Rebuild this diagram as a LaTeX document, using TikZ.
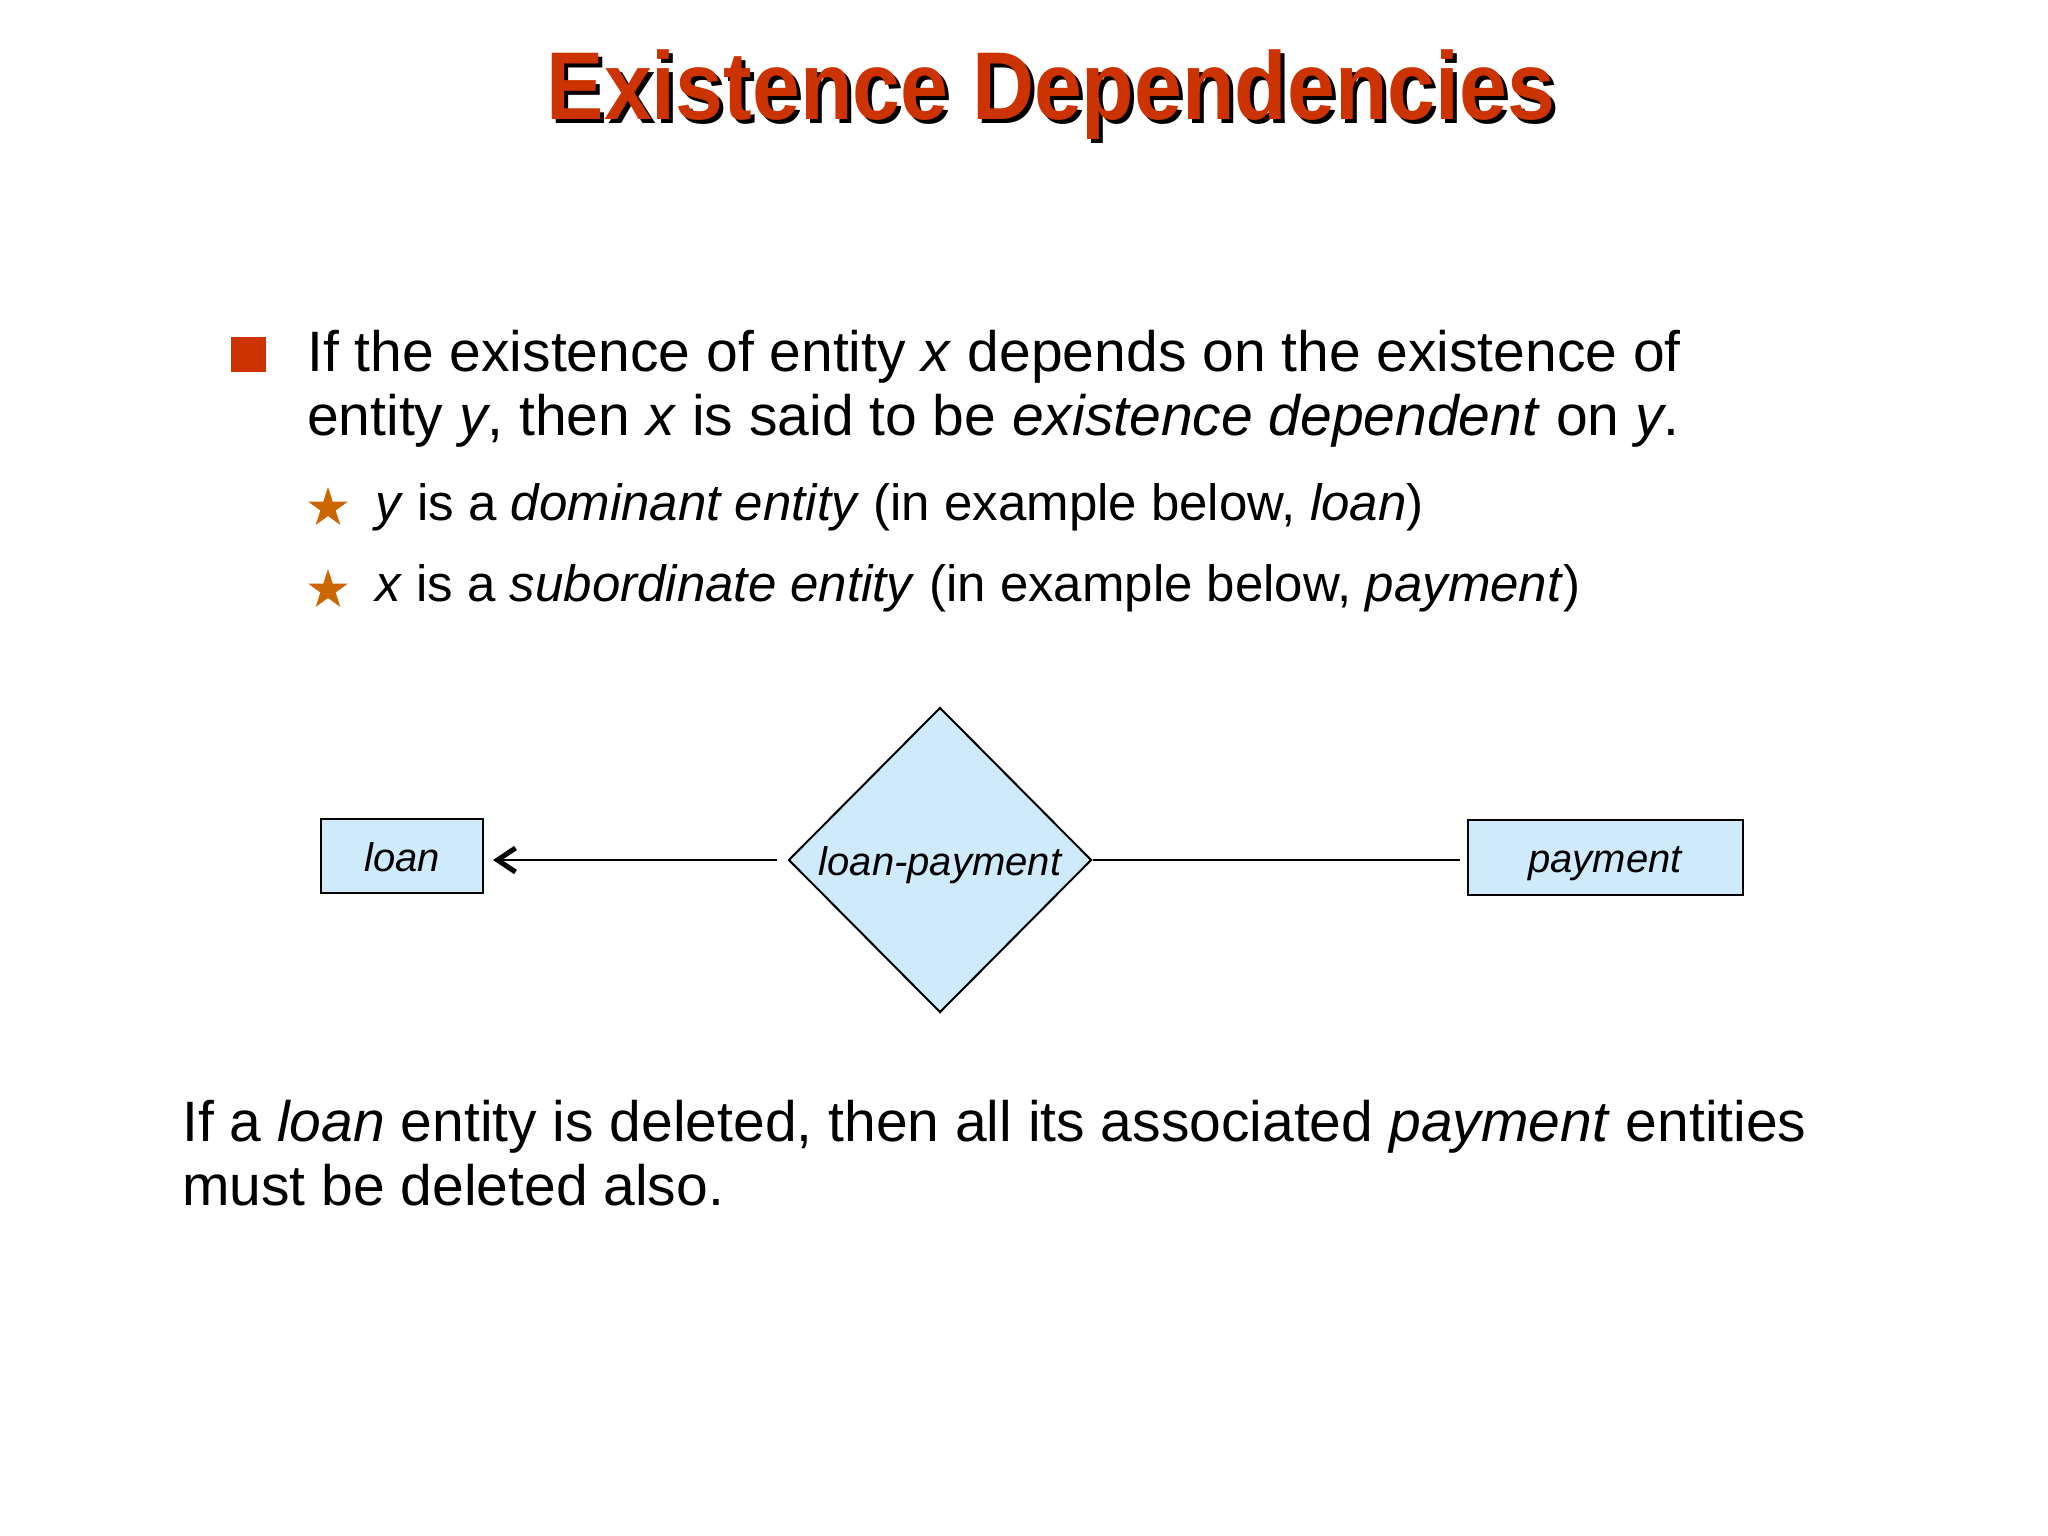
\documentclass[tikz,border=0pt]{standalone}
\usepackage{fontspec}
\setmainfont{Liberation Sans}
\usetikzlibrary{shapes.geometric,arrows.meta}
\definecolor{titlered}{RGB}{204,51,0}
\definecolor{staror}{RGB}{204,102,0}
\definecolor{erblue}{RGB}{206,234,251}
\begin{document}
\begin{tikzpicture}[x=1pt,y=-1pt,
  titletext/.style={anchor=base, inner sep=0pt, font=\fontsize{86}{90}\selectfont\bfseries},
  txt/.style={inner sep=0pt, anchor=base west, font=\fontsize{57}{64}\selectfont},
  sub/.style={inner sep=0pt, anchor=base west, font=\fontsize{51}{60}\selectfont},
  entity/.style={draw, line width=2pt, fill=erblue, inner sep=0pt, text height=30pt, text depth=0pt, font=\fontsize{40}{48}\selectfont\itshape},
  relship/.style={diamond, aspect=1, draw, line width=2pt, fill=erblue, inner sep=0pt, text height=30pt, text depth=0pt, font=\fontsize{40}{48}\selectfont\itshape, minimum width=303pt, minimum height=305pt},
  starbul/.style={star, star points=5, star point ratio=2.618, fill=staror, inner sep=0pt, minimum size=42pt},
  sqbul/.style={fill=titlered, inner sep=0pt, minimum size=35pt},
  link/.style={line width=2pt}]
\useasboundingbox[fill=white] (0,0) rectangle (2048,1536);

% title with shadow
\node[titletext, text=black] (titleshadow) at (1055,124) {\scalebox{1}[1.12]{Existence Dependencies}};
\node[titletext, text=titlered] (title) at (1051,120) {\scalebox{1}[1.12]{Existence Dependencies}};

% main bullet
\node[sqbul] (sq) at (248.5,354.5) {};
\node[txt] (l1) at (307,371) {If the existence of entity \textit{x} depends on the existence of};
\node[txt] (l2) at (307,435) {entity \textit{y}, then \textit{x} is said to be \textit{existence dependent} on \textit{y}.};

% sub bullets
\node[starbul] (st1) at (328,508) {};
\node[sub] (s1) at (375,520) {\textit{y} is a \textit{dominant entity} (in example below, \textit{loan})};
\node[starbul] (st2) at (328,590) {};
\node[sub] (s2) at (375,601) {\textit{x} is a \textit{subordinate entity} (in example below, \textit{payment})};

% E-R diagram
\node[entity, minimum width=162pt, minimum height=74pt] (loan) at (402,856) {loan};
\node[relship] (rel) at (940,860) {loan-payment};
\node[entity, minimum width=275pt, minimum height=75pt] (pay) at (1605,857) {payment};

\draw[link, -{Straight Barb[length=18pt,width=24pt,line width=5pt 0]}, shorten <=11pt, shorten >=9pt]
  (rel.west) -- (rel.west -| loan.east);
\draw[link, shorten >=7pt] (rel.east) -- (rel.east -| pay.west);

% bottom text
\node[txt] (b1) at (182,1141) {If a \textit{loan} entity is deleted, then all its associated \textit{payment} entities};
\node[txt] (b2) at (182,1205) {must be deleted also.};
\end{tikzpicture}
\end{document}
